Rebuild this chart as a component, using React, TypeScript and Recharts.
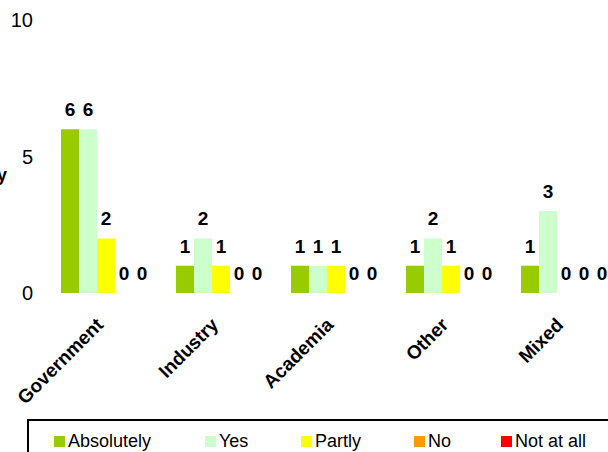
import React from 'react';
import { BarChart, Bar, XAxis, YAxis, Legend, LabelList } from 'recharts';

// DATA
const categories = ['Government', 'Industry', 'Academia', 'Other', 'Mixed'];
const absolutely = [6, 1, 1, 1, 1];
const yes = [6, 2, 1, 2, 3];
const partly = [2, 1, 1, 1, 0];
const no = [0, 0, 0, 0, 0];
const notAtAll = [0, 0, 0, 0, 0];
const yTicks = [0, 5, 10];

const series = [
    { key: 'absolutely', name: 'Absolutely', color: '#99CC00' },
    { key: 'yes', name: 'Yes', color: '#CCFFCC' },
    { key: 'partly', name: 'Partly', color: '#FFFF00' },
    { key: 'no', name: 'No', color: '#FF9900' },
    { key: 'notAtAll', name: 'Not at all', color: '#FF0000' },
];

const data = categories.map((name, i) => ({
    name,
    absolutely: absolutely[i],
    yes: yes[i],
    partly: partly[i],
    no: no[i],
    notAtAll: notAtAll[i],
}));

const FONT = '"Liberation Sans", Arial, sans-serif';
// widths of the legend entries (marker + text + spacing)
const legendWidths = [151, 96, 113, 87, 100];

// rotated category labels
const CategoryTick = (props: any) => {
    const { x, y, payload } = props;
    return (
        <g transform={`translate(${x - 1},${y + 25})`}>
            <text textAnchor="end" transform="rotate(-45)" fontFamily={FONT} fontSize={19} fontWeight="bold" fill="#000">
                {payload.value}
            </text>
        </g>
    );
};

const LegendBox = () => (
    <div style={{
        width: 640, height: 40, borderTop: '2px solid #000', borderLeft: '2px solid #000',
        boxSizing: 'border-box', display: 'flex', alignItems: 'center', paddingLeft: 25, paddingTop: 2,
        fontFamily: FONT, fontSize: 18, color: '#000',
    }}>
        {series.map((s, i) => (
            <div key={s.key} style={{ display: 'flex', alignItems: 'center', width: legendWidths[i], flex: 'none' }}>
                <span style={{ width: 11, height: 11, background: s.color, marginRight: 3, display: 'inline-block' }} />
                <span>{s.name}</span>
            </div>
        ))}
    </div>
);

// COMPONENT
const App: React.FC = () => {
    return (
        <div style={{ position: 'fixed', left: 0, top: 0, width: 608, height: 452, overflow: 'hidden', background: '#fff' }}>
            <BarChart width={640} height={452} data={data} margin={{ top: 20, right: 17, left: 0, bottom: 0 }}
                barCategoryGap={13} barGap={0}>
                <XAxis dataKey="name" height={159} axisLine={false} tickLine={false} interval={0} tick={<CategoryTick />} />
                <YAxis domain={[0, 10]} ticks={yTicks} width={48} axisLine={false} tickLine={false} tickMargin={9}
                    tick={{ fontFamily: FONT, fontSize: 20, fill: '#000' }}
                    label={() => (
                        <text x={7} y={181} textAnchor="end" fontFamily={FONT} fontSize={18} fontWeight="bold" fill="#000">Frequency</text>
                    )} />
                <Legend layout="horizontal" verticalAlign="middle" align="center"
                    wrapperStyle={{ left: 27, top: 419 }} content={<LegendBox />} />
                {series.map((s) => (
                    <Bar key={s.key} dataKey={s.key} name={s.name} fill={s.color} minPointSize={0.01} isAnimationActive={false}>
                        <LabelList dataKey={s.key} position="top" offset={13}
                            style={{ fontFamily: FONT, fontSize: 19, fontWeight: 'bold', fill: '#000' }} />
                    </Bar>
                ))}
            </BarChart>
        </div>
    );
};

export default App;
